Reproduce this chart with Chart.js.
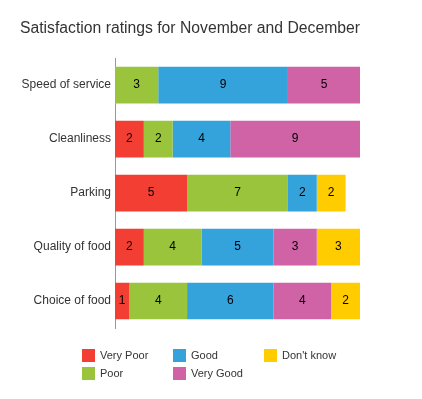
<!DOCTYPE html>
<html>
<head>
<meta charset="utf-8">
<script src="https://cdn.jsdelivr.net/npm/chart.js@4/dist/chart.umd.min.js"></script>
<style>
  html, body { margin: 0; padding: 0; background: #fff; }
  #wrap { width: 422px; height: 399px; position: relative; }
</style>
</head>
<body>
<div id="wrap"><canvas id="chart" width="422" height="399"></canvas></div>
<script>
const categories = ['Speed of service', 'Cleanliness', 'Parking', 'Quality of food', 'Choice of food'];
const seriesNames = ['Very Poor', 'Poor', 'Good', 'Very Good', "Don't know"];
const veryPoor = [0, 2, 5, 2, 1];
const poor = [3, 2, 7, 4, 4];
const good = [9, 4, 2, 5, 6];
const veryGood = [5, 9, 0, 3, 4];
const dontKnow = [0, 0, 2, 3, 2];
const colors = ['#f33e33', '#99c43c', '#34a3dc', '#d063a6', '#ffcc00'];

const FONT = '"Liberation Sans", Arial, sans-serif';
const allSeries = [veryPoor, poor, good, veryGood, dontKnow];

// numbers in the middle of each segment
const barLabels = {
  id: 'barLabels',
  afterDatasetsDraw(chart) {
    const ctx = chart.ctx;
    ctx.save();
    ctx.font = '12px ' + FONT;
    ctx.fillStyle = '#000';
    ctx.textAlign = 'center';
    ctx.textBaseline = 'middle';
    chart.data.datasets.forEach((ds, i) => {
      chart.getDatasetMeta(i).data.forEach((bar, j) => {
        const v = ds.data[j];
        if (!v) return;
        const p = bar.getCenterPoint();
        ctx.fillText(String(v), p.x, p.y);
      });
    });
    ctx.restore();
  }
};

// legend in columns of two, under the chart
const gridLegend = {
  id: 'gridLegend',
  afterDraw(chart) {
    const ctx = chart.ctx;
    const colX = [82, 173, 264];
    const rowY = [349, 367];
    ctx.save();
    ctx.font = '11px ' + FONT;
    ctx.textBaseline = 'middle';
    ctx.textAlign = 'left';
    chart.data.datasets.forEach((ds, i) => {
      const x = colX[Math.floor(i / 2)];
      const y = rowY[i % 2];
      ctx.fillStyle = ds.backgroundColor;
      ctx.fillRect(x, y, 13, 13);
      ctx.fillStyle = '#333';
      ctx.fillText(ds.label, x + 18, y + 7);
    });
    ctx.restore();
  }
};

new Chart(document.getElementById('chart'), {
  type: 'bar',
  data: {
    labels: categories,
    datasets: seriesNames.map((name, i) => ({
      label: name,
      data: allSeries[i],
      backgroundColor: colors[i],
      borderWidth: 0,
      categoryPercentage: 1,
      barPercentage: 0.68
    }))
  },
  options: {
    indexAxis: 'y',
    responsive: false,
    animation: false,
    layout: { padding: { left: 20, right: 62, top: 0, bottom: 71 } },
    scales: {
      x: { stacked: true, display: false, min: 0, max: 17 },
      y: {
        stacked: true,
        grid: { display: false, drawTicks: false },
        border: { display: true, color: '#999', width: 1 },
        ticks: { color: '#333', padding: 4, font: { family: FONT, size: 12 } },
        afterFit(scale) { scale.width = 95; }
      }
    },
    plugins: {
      legend: { display: false },
      tooltip: { enabled: false },
      title: {
        display: true,
        text: 'Satisfaction ratings for November and December',
        align: 'start',
        color: '#333',
        font: { family: FONT, size: 16, weight: 'normal' },
        padding: { top: 19, bottom: 20 }
      }
    }
  },
  plugins: [barLabels, gridLegend]
});
</script>
</body>
</html>
